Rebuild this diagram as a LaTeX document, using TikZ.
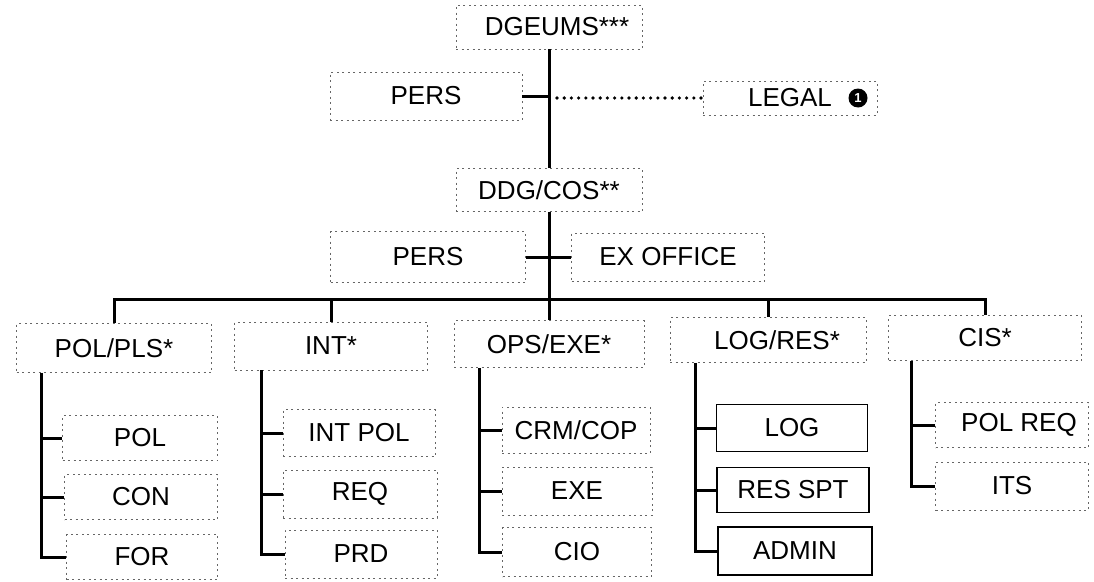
\documentclass[tikz,border=0pt]{standalone}
\usepackage{fontspec}
\setmainfont{Liberation Sans}
\usetikzlibrary{calc}
\begin{document}
\begin{tikzpicture}[x=1pt,y=-1pt,
  lbl/.style={font=\fontsize{26}{30}\selectfont, text=black, inner sep=0pt},
  box/.style={lbl, draw=black!60, line width=0.9pt, dash pattern=on 2pt off 3.5pt},
  sbox/.style={lbl, draw=black, line width=1.8pt},
  sz/.style 2 args={minimum width=#1pt, minimum height=#2pt},
  conn/.style={line width=3pt, black},
  dotline/.style={line width=3.6pt, dash pattern=on 0pt off 7.2pt, line cap=round}
]
\useasboundingbox (0,0) rectangle (1094,581);

% top levels
\node[box, sz={186}{44}] (dgeums) at (549,27) {\hspace*{16pt}DGEUMS***};
\node[box, sz={192}{48}] (pers1) at (426,96) {PERS};
\node[box, sz={174}{34}] (legal) at (790,98) {LEGAL};
\node[circle, fill=black, inner sep=0pt, minimum size=19pt,
      font=\fontsize{13}{13}\bfseries\selectfont, text=white] (legalmark) at (858,98) {1};
\node[box, sz={186}{43}] (ddg) at (549,190) {DDG/COS**};
\node[box, sz={195}{51}] (pers2) at (428,257) {PERS};
\node[box, sz={193}{48}] (exoff) at (668,257) {EX OFFICE};

% divisions
\node[box, sz={195}{49}] (polpls) at (114,348) {POL/PLS*};
\node[box, sz={193}{48}] (int) at (331,346) {INT*};
\node[box, sz={190}{47}] (ops) at (549,344) {OPS/EXE*};
\node[box, sz={196}{45}] (logres) at (768,340) {\hspace*{18pt}LOG/RES*};
\node[box, sz={193}{45}] (cis) at (985,338) {CIS*};

% branches
\node[box, sz={155}{45}] (pol) at (140,438) {POL};
\node[box, sz={153}{45}] (con) at (141,497) {CON};
\node[box, sz={151}{45}] (for) at (142,557) {FOR};
\node[box, sz={152}{47}] (intpol) at (359,433) {INT POL};
\node[box, sz={154}{48}] (req) at (360,494) {REQ};
\node[box, sz={152}{48}] (prd) at (361,554) {PRD};
\node[box, sz={148}{46}] (crm) at (576,430) {CRM/COP};
\node[box, sz={150}{48}] (exe) at (577,491) {EXE};
\node[box, sz={149}{49}] (cio) at (577,552) {CIO};
\node[sbox, sz={151}{47}] (log) at (792,428) {LOG};
\node[sbox, sz={152}{45}] (resspt) at (793,490) {RES SPT};
\node[sbox, sz={154}{48}] (admin) at (795,551) {ADMIN};
\node[box, sz={153}{45}] (polreq) at (1012,425) {\hspace*{14pt}POL REQ};
\node[box, sz={153}{48}] (its) at (1012,486) {ITS};

% main spine
\draw[conn] (dgeums.south) -- (ddg.north);
\draw[conn] (ddg.south) -- (ops.north);
\draw[conn] (pers1.east) -- (pers1.east -| dgeums.south);
\draw[dotline] ($(legal.west -| dgeums.south)+(8,0)$) -- (legal.west);
\draw[conn] (pers2.east) -- (exoff.west);

% bus
\coordinate (bus) at (0,299);
\draw[conn] (polpls.north) |- (bus -| cis.north) -- (cis.north);
\draw[conn] (int.north) -- (int.north |- bus);
\draw[conn] (logres.north) -- (logres.north |- bus);

% sub trees
\coordinate (s1) at ($(polpls.south west)+(25,0)$);
\coordinate (s2) at ($(int.south west)+(27,0)$);
\coordinate (s3) at ($(ops.south west)+(26,0)$);
\coordinate (s4) at ($(logres.south west)+(26,0)$);
\coordinate (s5) at ($(cis.south west)+(23,0)$);

\draw[conn] (s1) |- (for.west);
\draw[conn] (pol.west) -- (pol.west -| s1);
\draw[conn] (con.west) -- (con.west -| s1);

\draw[conn] (s2) |- (prd.west);
\draw[conn] (intpol.west) -- (intpol.west -| s2);
\draw[conn] (req.west) -- (req.west -| s2);

\draw[conn] (s3) |- (cio.west);
\draw[conn] (crm.west) -- (crm.west -| s3);
\draw[conn] (exe.west) -- (exe.west -| s3);

\draw[conn] (s4) |- (admin.west);
\draw[conn] (log.west) -- (log.west -| s4);
\draw[conn] (resspt.west) -- (resspt.west -| s4);

\draw[conn] (s5) |- (its.west);
\draw[conn] (polreq.west) -- (polreq.west -| s5);
\end{tikzpicture}
\end{document}
